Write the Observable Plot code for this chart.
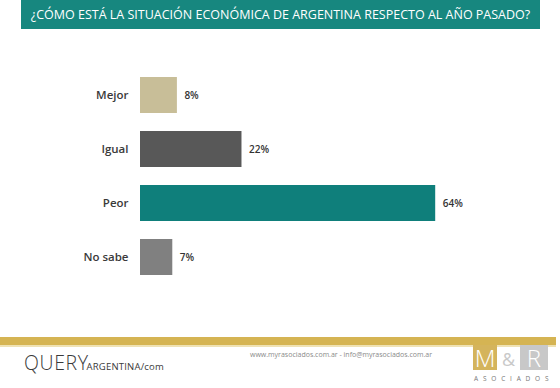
<!DOCTYPE html>
<html>
<head>
<meta charset="utf-8">
<script src="https://cdn.jsdelivr.net/npm/d3@7"></script>
<script src="https://cdn.jsdelivr.net/npm/@observablehq/plot@0.6"></script>
<style>
  html, body { margin: 0; padding: 0; background: #fff; }
  #page { position: relative; width: 560px; height: 388px; overflow: hidden; font-family: "Open Sans", sans-serif; }
  #title { position: absolute; left: 21px; top: 0; width: 519px; height: 29px; background: #17877f;
           color: #fff; font-size: 12.5px; line-height: 29px; text-align: center; letter-spacing: 0px; white-space: nowrap; }
  #chart { position: absolute; left: 0; top: 40px; }
  #gold { position: absolute; left: 0; top: 337px; width: 556px; height: 8px; background: #d5b453; }
  #gold2 { position: absolute; left: 0; top: 345px; width: 556px; height: 2px; background: #efe2b4; }
  #query { position: absolute; left: 24px; top: 350px; height: 26px; color: #3a3a3a; white-space: nowrap; }
  #query .big { font-size: 19.5px; font-weight: 300; letter-spacing: 0.6px; line-height: 26px; }
  #query .small { font-size: 9.5px; letter-spacing: 0.2px; margin-left: -2px; }
  #web { position: absolute; left: 250px; top: 350px; font-size: 7px; color: #8a8a8a; white-space: nowrap; }
  #mbox { position: absolute; left: 473px; top: 345px; width: 24px; height: 25px; background: #d4b45c; color: #fff;
          font-size: 24px; line-height: 26px; text-align: center; font-weight: 300; }
  #amp { position: absolute; left: 498px; top: 345px; width: 21px; height: 25px; color: #c9c9c9; font-size: 18px; line-height: 28px; text-align: center; }
  #rbox { position: absolute; left: 520px; top: 345px; width: 28px; height: 25px; background: #c8c8c8; color: #fff;
          font-size: 24px; line-height: 26px; text-align: center; font-weight: 300; }
  #asoc { position: absolute; left: 474px; top: 374px; width: 90px; font-size: 6.5px; color: #777; letter-spacing: 4.8px; white-space: nowrap; }
</style>
</head>
<body>
<div id="page">
  <div id="title">¿CÓMO ESTÁ LA SITUACIÓN ECONÓMICA DE ARGENTINA RESPECTO AL AÑO PASADO?</div>
  <div id="chart"></div>
  <div id="gold"></div>
  <div id="gold2"></div>
  <div id="query"><span class="big">QUERY</span><span class="small">ARGENTINA/com</span></div>
  <div id="web">www.myrasociados.com.ar - info@myrasociados.com.ar</div>
  <div id="mbox">M</div>
  <div id="amp">&amp;</div>
  <div id="rbox">R</div>
  <div id="asoc">ASOCIADOS</div>
</div>
<script>
const categories = ["Mejor", "Igual", "Peor", "No sabe"];
const values = [8, 22, 64, 7];
const labels = ["8%", "22%", "64%", "7%"];
const colors = ["#c8be98", "#585858", "#0f7f7b", "#808080"];

const data = categories.map((c, i) => ({cat: c, value: values[i], label: labels[i], color: colors[i]}));

const chart = Plot.plot({
  width: 560,
  height: 270,
  marginLeft: 140,
  marginRight: 51,
  marginTop: 19,
  marginBottom: 17,
  style: {fontFamily: "Open Sans, sans-serif", fontSize: "11.5px", fontWeight: 600, color: "#3a3a3a", background: "transparent"},
  x: {domain: [0, 80], axis: null},
  y: {domain: categories, padding: 0.33, label: null, tickSize: 0, tickPadding: 12},
  marks: [
    Plot.barX(data, {x: "value", y: "cat", fill: "color"}),
    Plot.text(data, {x: "value", y: "cat", text: "label", textAnchor: "start", dx: 7, fill: "#333", fontSize: 10, fontWeight: 600})
  ]
});
document.getElementById("chart").appendChild(chart);
</script>
</body>
</html>
